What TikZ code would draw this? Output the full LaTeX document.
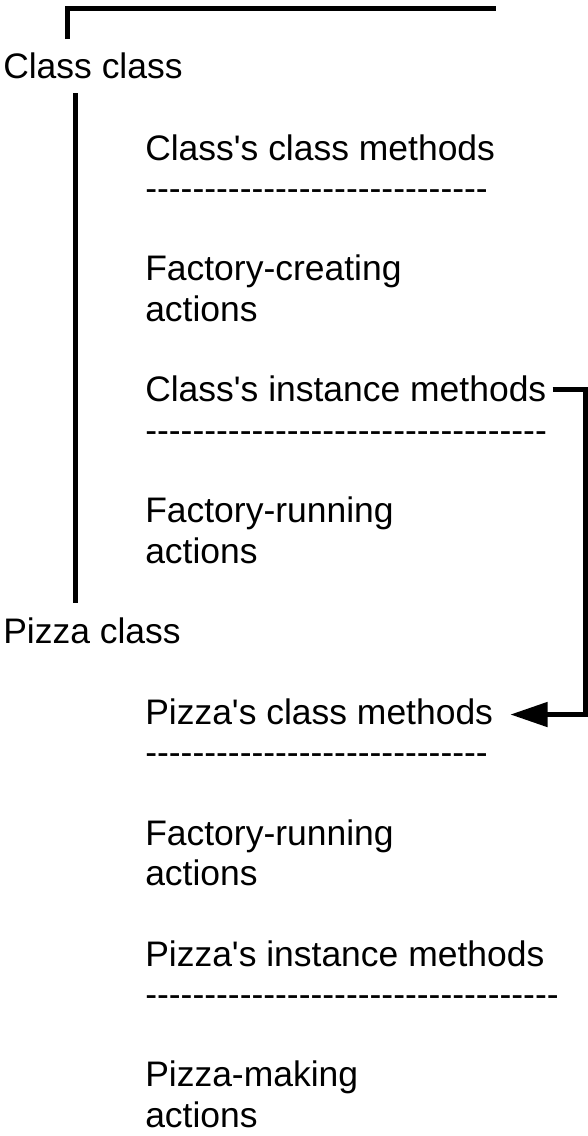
\documentclass[tikz,border=0pt]{standalone}
\usepackage{fontspec}
\setmainfont{Liberation Sans}[Ligatures=TeXOff]
\usetikzlibrary{arrows.meta}
\tikzstyle{txt} = [anchor=base west, inner sep=0pt, font=\fontsize{26.6pt}{30.2pt}\selectfont]
\tikzstyle{bar} = [line width=3.75pt]
\tikzstyle{arrow} = [line width=3.75pt, -{Triangle[length=28pt, width=18pt]}]

\begin{document}
\begin{tikzpicture}[x=0.75pt, y=-0.75pt]
    \useasboundingbox (0,0) rectangle (587,1136);

    % left column
    \node (classcls) [txt] at (3,78) {Class class};
    \node (pizzacls) [txt] at (3,643.6) {Pizza class};

    % Class class
    \node (ccm) [txt] at (145,160) {Class's class methods};
    \node (ccmdash) [txt] at (145,200.3) {-----------------------------};
    \node (fcreate) [txt] at (145,280.9) {Factory-creating};
    \node (fcreateact) [txt] at (145,321.2) {actions};
    \node (cim) [txt] at (145,401.8) {Class's instance methods};
    \node (cimdash) [txt] at (145,442.1) {----------------------------------};
    \node (frun) [txt] at (145,522.7) {Factory-running};
    \node (frunact) [txt] at (145,563) {actions};

    % Pizza class
    \node (pcm) [txt] at (145,724.2) {Pizza's class methods};
    \node (pcmdash) [txt] at (145,764.5) {-----------------------------};
    \node (prun) [txt] at (145,845.1) {Factory-running};
    \node (prunact) [txt] at (145,885.4) {actions};
    \node (pim) [txt] at (145,966) {Pizza's instance methods};
    \node (pimdash) [txt] at (145,1006.3) {-----------------------------------};
    \node (pmake) [txt] at (145,1086.9) {Pizza-making};
    \node (pmakeact) [txt] at (145,1127.2) {actions};

    \coordinate (topend) at (496,8);
    \coordinate (classtop) at (67,39);
    \coordinate (spinetop) at (75,93);
    \coordinate (spinebot) at (75,603);

    \draw [bar] (classtop) |- (topend);
    \draw [bar] (spinetop) -- (spinebot);
    \draw [arrow] ([shift={(6,0)}]cim.east) -- ++(33,0) |- ([shift={(17,3)}]pcm.east);

\end{tikzpicture}
\end{document}
